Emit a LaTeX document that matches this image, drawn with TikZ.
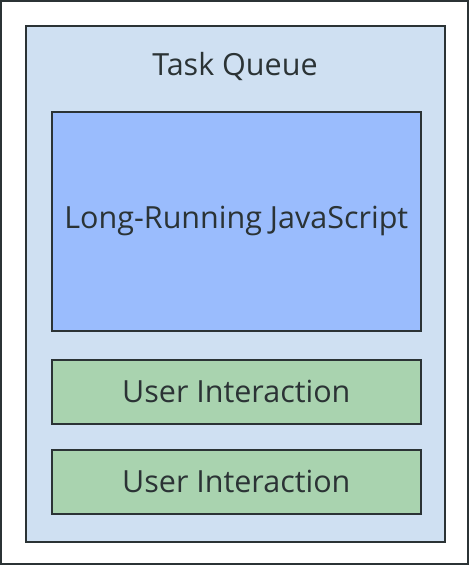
\documentclass[tikz,border=0pt]{standalone}
\usepackage{fontspec}
\setmainfont{Open Sans}
\definecolor{edge}{HTML}{2B3335}
\definecolor{queuebg}{HTML}{CFE0F2}
\definecolor{jsblue}{HTML}{9ABCFD}
\definecolor{uigreen}{HTML}{A9D3AF}
\tikzset{
  box/.style={draw=edge, line width=1.6pt, inner sep=0pt, anchor=north west, text=edge},
  lbl/.style={text=edge, inner sep=0pt, font=\fontsize{30.5}{34}\selectfont}
}
\begin{document}
\begin{tikzpicture}[x=1pt,y=-1pt]
\useasboundingbox (0,0) rectangle (470,566);
\fill[white] (0,0) rectangle (470,566);
\draw[edge, line width=1.4pt] (1,1) rectangle (468,564);
\node[box, fill=queuebg, minimum width=419pt, minimum height=516pt] (queue) at (25,25) {};
\node[lbl] (title) at (235,66) {Task Queue};
\node[box, fill=jsblue, minimum width=369pt, minimum height=219pt] (js) at (51,111) {};
\node[lbl] at (js.center) {Long-Running JavaScript};
\node[box, fill=uigreen, minimum width=369pt, minimum height=64pt] (ui1) at (51,359) {};
\node[lbl] at (ui1.center) {User Interaction};
\node[box, fill=uigreen, minimum width=369pt, minimum height=64pt] (ui2) at (51,449) {};
\node[lbl] at (ui2.center) {User Interaction};
\end{tikzpicture}
\end{document}
